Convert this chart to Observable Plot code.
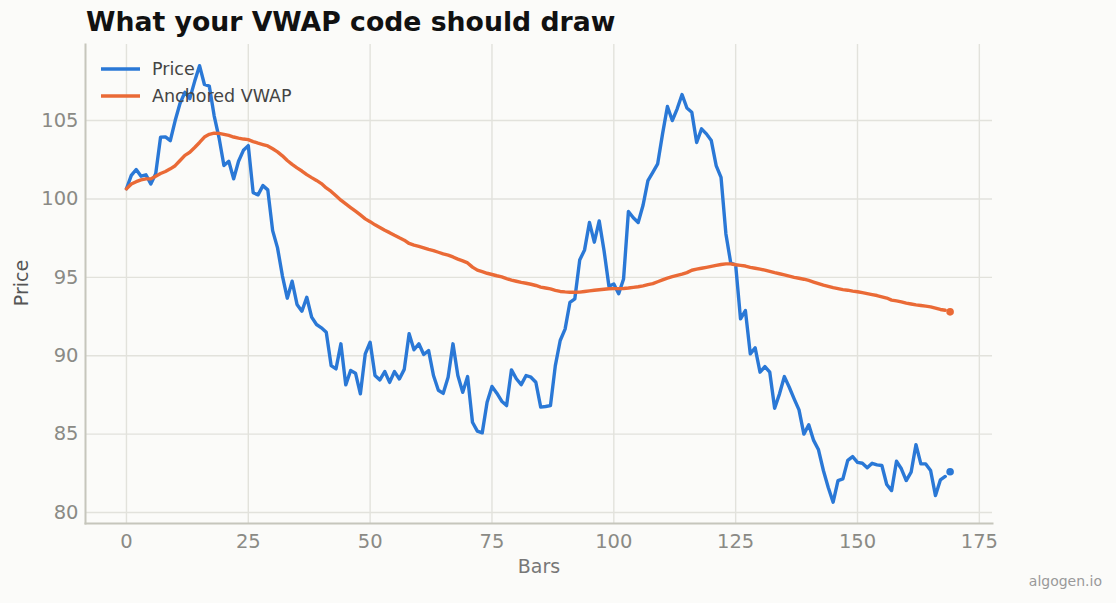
<!DOCTYPE html>
<html>
<head>
<meta charset="utf-8">
<script src="https://cdn.jsdelivr.net/npm/d3@7"></script>
<script src="https://cdn.jsdelivr.net/npm/@observablehq/plot@0.6"></script>
<style>
  html, body { margin: 0; padding: 0; background: #fbfbf9; }
  #wrap { position: relative; width: 1116px; height: 603px; overflow: hidden; font-family: "DejaVu Sans", sans-serif; }
  #title { position: absolute; left: 86px; top: 7px; font-size: 26.7px; font-weight: bold; color: #111; line-height: 30px; white-space: nowrap; }
  #legend { position: absolute; left: 101px; top: 55px; font-size: 17.5px; color: #444; }
  .lg { display: flex; align-items: center; height: 27px; }
  .lg svg { margin-right: 12px; }
  #credit { position: absolute; right: 14px; top: 573px; font-size: 14px; color: #999; }
  #chart { position: absolute; left: 0; top: 0; }
  .axlab { position: absolute; font-size: 19px; line-height: 22px; white-space: nowrap; }
  #xlab { left: 539px; top: 566px; transform: translate(-50%, -50%); color: #777; }
  #ylab { left: 21px; top: 283px; transform: translate(-50%, -50%) rotate(-90deg); color: #555; }
</style>
</head>
<body>
<div id="wrap">
  <div id="chart"></div>
  <div id="title">What your VWAP code should draw</div>
  <div id="legend"></div>
  <div class="axlab" id="xlab"></div>
  <div class="axlab" id="ylab"></div>
  <div id="credit">algogen.io</div>
</div>
<script>
// ---- data (bar index = position in array) ----
const price = [
  100.65, 101.5, 101.88, 101.45, 101.54, 100.96, 101.6, 103.94, 103.96, 103.72,
  105.0, 106.1, 106.8, 106.4, 107.5, 108.5, 107.3, 107.2, 105.3, 103.9,
  102.13, 102.4, 101.28, 102.4, 103.1, 103.4, 100.4, 100.26, 100.85, 100.58,
  97.98, 96.88, 95.1, 93.67, 94.75, 93.27, 92.84, 93.73, 92.46, 91.99,
  91.78, 91.5, 89.37, 89.16, 90.76, 88.14, 89.06, 88.89, 87.57, 90.12,
  90.86, 88.74, 88.46, 88.99, 88.3, 88.99, 88.52, 89.13, 91.4, 90.38,
  90.76, 90.08, 90.33, 88.74, 87.8, 87.6, 88.63, 90.76, 88.74, 87.67,
  88.67, 85.76, 85.19, 85.08, 87.03, 88.04, 87.61, 87.1, 86.82, 89.1,
  88.53, 88.16, 88.74, 88.63, 88.31, 86.72, 86.76, 86.82, 89.37, 90.97,
  91.7, 93.41, 93.63, 96.1, 96.75, 98.5, 97.24, 98.6, 96.7, 94.43,
  94.58, 93.95, 94.9, 99.2, 98.8, 98.5, 99.6, 101.17, 101.7, 102.24,
  104.15, 105.9, 105.0, 105.75, 106.66, 105.8, 105.53, 103.6, 104.47, 104.15,
  103.72, 102.13, 101.38, 97.77, 95.9, 95.8, 92.35, 92.88, 90.12, 90.5,
  88.95, 89.31, 88.95, 86.65, 87.57, 88.67, 87.99, 87.25, 86.55, 85.0,
  85.6, 84.6, 84.0, 82.68, 81.6, 80.66, 82.04, 82.15, 83.33, 83.57,
  83.2, 83.14, 82.85, 83.14, 83.04, 83.0, 81.79, 81.4, 83.27, 82.79,
  82.04, 82.57, 84.33, 83.1, 83.1, 82.68, 81.08, 82.08, 82.3
];
const vwap = [
  100.64, 100.95, 101.1, 101.22, 101.28, 101.28, 101.45, 101.62, 101.75, 101.92,
  102.12, 102.45, 102.78, 102.98, 103.28, 103.6, 103.95, 104.12, 104.2, 104.18,
  104.12, 104.05, 103.95, 103.88, 103.82, 103.78, 103.66, 103.56, 103.47, 103.38,
  103.2, 103.0, 102.75, 102.45, 102.2, 101.98, 101.78, 101.55, 101.36, 101.18,
  100.98, 100.7, 100.48, 100.2, 99.92, 99.68, 99.45, 99.22, 98.98, 98.73,
  98.55, 98.35, 98.18, 98.0, 97.85, 97.68, 97.52, 97.37, 97.16, 97.05,
  96.97, 96.88, 96.78, 96.7, 96.6, 96.5, 96.42, 96.3, 96.16, 96.05,
  95.92, 95.65, 95.46, 95.36, 95.26, 95.18, 95.1, 95.03, 94.92, 94.82,
  94.75, 94.68, 94.62, 94.56, 94.48, 94.38, 94.32, 94.26, 94.17, 94.1,
  94.07, 94.05, 94.05, 94.06, 94.1, 94.14, 94.18, 94.21, 94.24, 94.27,
  94.28, 94.28, 94.29, 94.32, 94.36, 94.4, 94.46, 94.54, 94.6, 94.72,
  94.84, 94.95, 95.04, 95.12, 95.2, 95.3, 95.45, 95.52, 95.58, 95.64,
  95.7, 95.76, 95.82, 95.86, 95.86, 95.8, 95.76, 95.72, 95.64, 95.58,
  95.52, 95.46, 95.38, 95.3, 95.23, 95.16, 95.08, 95.0, 94.94, 94.88,
  94.8, 94.7, 94.6, 94.5, 94.42, 94.34, 94.28, 94.22, 94.18, 94.12,
  94.08, 94.02, 93.96, 93.9, 93.84, 93.76, 93.68, 93.55, 93.5, 93.44,
  93.36, 93.3, 93.24, 93.2, 93.16, 93.12, 93.04, 92.95, 92.9
];
const lastBar = 169;
const lastPrice = 82.6;
const lastVwap = 92.8;
const xTicks = [0, 25, 50, 75, 100, 125, 150, 175];
const yTicks = [80, 85, 90, 95, 100, 105];
const seriesNames = ["Price", "Anchored VWAP"];
const colors = ["#2a78d6", "#ea6a36"];
const xLabel = "Bars";
const yLabel = "Price";

// ---- build ----
const priceData = price.map((v, i) => ({bar: i, value: v}));
const vwapData = vwap.map((v, i) => ({bar: i, value: v}));
const lastPts = [
  {bar: lastBar, value: lastPrice, s: 0},
  {bar: lastBar, value: lastVwap, s: 1}
];

const gridColor = "#e2e2dc";
const axisColor = "#c6c6bc";
const tickColor = "#8a8a85";

const chart = Plot.plot({
  width: 1116,
  height: 603,
  marginLeft: 85,
  marginRight: 124,
  marginTop: 44,
  marginBottom: 80,
  style: {background: "transparent", fontFamily: "DejaVu Sans, sans-serif"},
  x: {domain: [-8.4, 177.7]},
  y: {domain: [79.3, 109.85]},
  marks: [
    Plot.gridX(xTicks, {stroke: gridColor, strokeOpacity: 1, strokeWidth: 1.4}),
    Plot.gridY(yTicks, {stroke: gridColor, strokeOpacity: 1, strokeWidth: 1.4}),
    Plot.axisX(xTicks, {tickSize: 0, tickPadding: 11, fontSize: 19.5, fill: tickColor, label: null}),
    Plot.axisY(yTicks, {tickSize: 0, tickPadding: 7, fontSize: 19.5, fill: tickColor, label: null}),
    Plot.frame({anchor: "left", stroke: axisColor, strokeWidth: 2}),
    Plot.frame({anchor: "bottom", stroke: axisColor, strokeWidth: 2}),
    Plot.line(priceData, {x: "bar", y: "value", stroke: colors[0], strokeWidth: 3.4, strokeLinejoin: "round"}),
    Plot.line(vwapData, {x: "bar", y: "value", stroke: colors[1], strokeWidth: 3.4, strokeLinejoin: "round"}),
    Plot.dot(lastPts, {x: "bar", y: "value", r: 3.8, fill: d => colors[d.s], stroke: "none"})
  ]
});
document.getElementById("chart").appendChild(chart);
document.getElementById("xlab").textContent = xLabel;
document.getElementById("ylab").textContent = yLabel;

// legend
const legend = document.getElementById("legend");
seriesNames.forEach((name, i) => {
  const row = document.createElement("div");
  row.className = "lg";
  row.innerHTML = `<svg width="39" height="6"><line x1="0" x2="39" y1="3" y2="3" stroke="${colors[i]}" stroke-width="3.4"/></svg><span>${name}</span>`;
  legend.appendChild(row);
});
</script>
</body>
</html>
